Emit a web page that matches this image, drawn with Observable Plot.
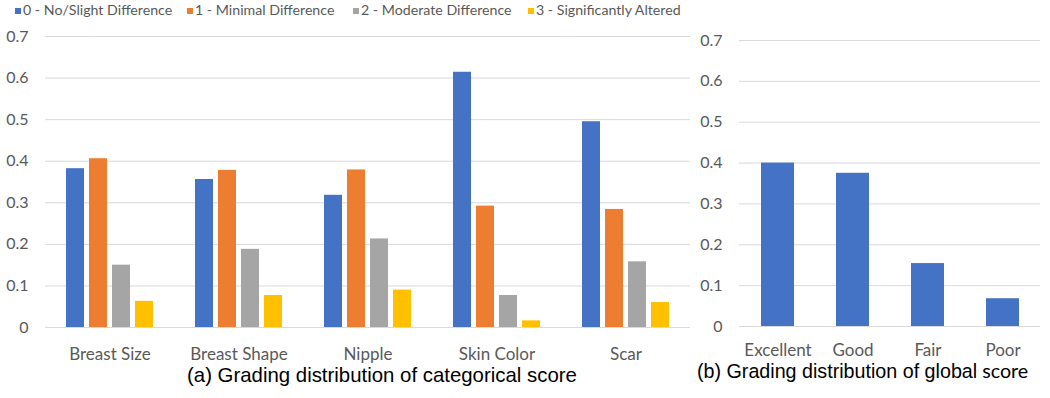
<!DOCTYPE html>
<html>
<head>
<meta charset="utf-8">
<script src="https://cdn.jsdelivr.net/npm/d3@7"></script>
<script src="https://cdn.jsdelivr.net/npm/@observablehq/plot@0.6"></script>
<style>
  html, body { margin: 0; padding: 0; background: #fff; }
  #wrap { position: relative; width: 1050px; height: 398px; overflow: hidden; }
  #left { position: absolute; left: 0; top: 0; }
  #right { position: absolute; left: 695px; top: 0; }
  #legend { position: absolute; left: 0; top: 0; height: 22px; font-family: Lato, sans-serif; font-size: 14.2px; color: #595959; }
  .item { position: absolute; top: 2px; white-space: nowrap; line-height: 16px; }
  .sw { display: inline-block; width: 6px; height: 6px; margin-right: 2px; vertical-align: 1px; }
  .cap { position: absolute; font-family: "Liberation Sans", Arial, sans-serif; line-height: 1; color: #000; white-space: nowrap; }
</style>
</head>
<body>
<div id="wrap">
  <div id="legend"></div>
  <div id="left"></div>
  <div id="right"></div>
  <div class="cap" id="capA"></div>
  <div class="cap" id="capB"></div>
</div>
<script>
const categories = ["Breast Size", "Breast Shape", "Nipple", "Skin Color", "Scar"];
const series = ["0 - No/Slight Difference", "1 - Minimal Difference", "2 - Moderate Difference", "3 - Significantly Altered"];
const colors = ["#4472C4", "#ED7D31", "#A5A5A5", "#FFC000"];
const s0 = [0.382, 0.356, 0.318, 0.614, 0.495];
const s1 = [0.406, 0.378, 0.379, 0.292, 0.284];
const s2 = [0.150, 0.188, 0.213, 0.077, 0.158];
const s3 = [0.063, 0.077, 0.090, 0.016, 0.060];
const globalCats = ["Excellent", "Good", "Fair", "Poor"];
const globalVals = [0.400, 0.375, 0.154, 0.068];
const yTicks = [0, 0.1, 0.2, 0.3, 0.4, 0.5, 0.6, 0.7];
const captionA = "(a) Grading distribution of categorical score";
const captionB1 = "(b) Grading distribution of global";
const captionB2 = " score";

const seriesVals = [s0, s1, s2, s3];
const catData = [];
categories.forEach((c, i) => series.forEach((s, j) => catData.push({category: c, series: s, value: seriesVals[j][i]})));
const globalData = globalCats.map((c, i) => ({cat: c, value: globalVals[i]}));
const fmt = d => `${+d.toFixed(1)}`;

const left = Plot.plot({
  width: 695, height: 365,
  marginLeft: 43, marginRight: 3, marginTop: 36, marginBottom: 38,
  style: {fontFamily: "Lato, sans-serif", fontSize: "17px", color: "#595959", background: "transparent"},
  fx: {domain: categories, padding: 0, label: null, tickSize: 0, tickPadding: 20},
  x: {domain: series, paddingInner: 0.234, paddingOuter: 0.878, axis: null},
  y: {domain: [0, 0.7], ticks: yTicks, tickFormat: fmt, label: null, tickSize: 0, tickPadding: 17},
  color: {domain: series, range: colors},
  marks: [
    Plot.ruleY(yTicks, {stroke: "#d9d9d9", strokeWidth: 1}),
    Plot.barY(catData, {fx: "category", x: "series", y: "value", fill: "series"})
  ]
});
document.getElementById("left").appendChild(left);

const right = Plot.plot({
  width: 355, height: 365,
  marginLeft: 44, marginRight: 10, marginTop: 40, marginBottom: 39,
  style: {fontFamily: "Lato, sans-serif", fontSize: "17px", color: "#595959", background: "transparent"},
  x: {domain: globalCats, paddingInner: 0.56, paddingOuter: 0.28, label: null, tickSize: 0, tickPadding: 17},
  y: {domain: [0, 0.7], ticks: yTicks, tickFormat: fmt, label: null, tickSize: 0, tickPadding: 17},
  marks: [
    Plot.ruleY(yTicks, {stroke: "#d9d9d9", strokeWidth: 1}),
    Plot.barY(globalData, {x: "cat", y: "value", fill: colors[0]})
  ]
});
document.getElementById("right").appendChild(right);

// y-axis tick labels slightly smaller than category labels
for (const svg of [left, right]) {
  svg.querySelectorAll('[aria-label^="y-axis"]').forEach(g => g.style.fontSize = "16px");
}

// legend
const legendPos = [15, 187, 353, 528];
const legend = d3.select("#legend");
series.forEach((s, i) => {
  const it = legend.append("div").attr("class", "item").style("left", legendPos[i] + "px");
  it.append("span").attr("class", "sw").style("background", colors[i]);
  it.append("span").text(s);
});

// captions
const capA = document.getElementById("capA");
capA.textContent = captionA;
capA.style.fontSize = "20.4px";
capA.style.left = "187px"; capA.style.top = "365px";
const capB = document.getElementById("capB");
capB.style.fontSize = "19.7px";
capB.style.left = "697px"; capB.style.top = "361px";
capB.appendChild(document.createTextNode(captionB1));
const sc = document.createElement("span");
sc.textContent = captionB2;
sc.style.fontFamily = "Lato, sans-serif";
capB.appendChild(sc);
</script>
</body>
</html>
